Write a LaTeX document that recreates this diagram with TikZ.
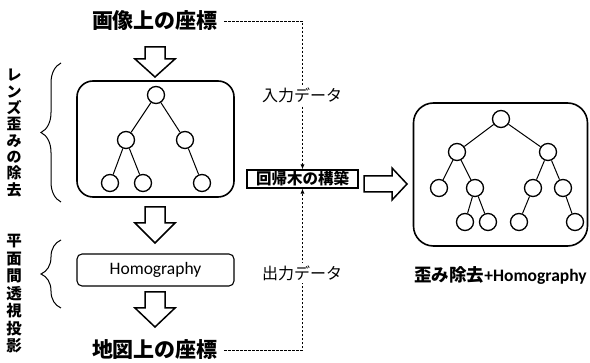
\documentclass[tikz,border=0pt]{standalone}
\usepackage{fontspec}
\setmainfont{Carlito}
\newfontfamily\jp{Noto Sans CJK JP}
\usetikzlibrary{arrows.meta,decorations.pathreplacing}
\begin{document}
\begin{tikzpicture}[x=1pt,y=-1pt,
  tn/.style={circle,draw,line width=1.3pt,minimum size=17pt,inner sep=0pt,fill=white},
  te/.style={line width=1pt},
  bigbox/.style={draw,line width=1.6pt,rounded corners=16pt},
  barrow/.style={draw,line width=1.5pt,fill=white,line join=miter},
  dline/.style={line width=0.8pt,dash pattern=on 2.5pt off 1.5pt},
  dtip/.style={-{Latex[length=5pt,width=4pt]}},
  title/.style={font=\jp\bfseries\fontsize{21}{21}\selectfont,inner sep=6pt},
  vlabA/.style={font=\jp\bfseries\fontsize{15}{16.3}\selectfont,align=center,inner sep=0pt},
  vlabB/.style={font=\jp\bfseries\fontsize{15.5}{17.5}\selectfont,align=center,inner sep=0pt},
  midlab/.style={font=\jp\fontsize{16}{16}\selectfont,fill=white,inner sep=3pt},
  brc/.style={decorate,decoration={brace,amplitude=20pt},line width=1pt},
]
\useasboundingbox (0,0) rectangle (590,363);

% titles
\node[title] (t1) at (155,21) {画像上の座標};
\node[title] (t2) at (155,350) {地図上の座標};

% vertical labels and braces
\node[vlabA] (v1) at (14,133) {レ\\ン\\ズ\\歪\\み\\の\\除\\去};
\node[vlabB] (v2) at (14,294) {平\\面\\間\\透\\視\\投\\影};
\draw[brc] (61,202) -- (61,63);
\draw[brc] (61,308) -- (61,240);

% left tree box
\node[bigbox,minimum width=157pt,minimum height=116pt] (lbox) at (155.5,139) {};
\node[tn] (a0) at (156,95) {};
\node[tn] (a1) at (126,140) {};
\node[tn] (a2) at (185,140) {};
\node[tn] (a3) at (110,183) {};
\node[tn] (a4) at (143,183) {};
\node[tn] (a5) at (202,183) {};
\draw[te] (a0) -- (a1); \draw[te] (a0) -- (a2);
\draw[te] (a1) -- (a3); \draw[te] (a1) -- (a4);
\draw[te] (a2) -- (a5);

% homography box
\node[draw,line width=1.1pt,rounded corners=5pt,minimum width=157pt,minimum height=32pt,font=\fontsize{17.5}{17.5}\selectfont] (hbox) at (155.5,270) {Homography};

% block arrows
\draw[barrow] (145,47) -- (165,47) -- (165,59) -- (175,59) -- (155,77) -- (135,59) -- (145,59) -- cycle;
\draw[barrow] (145,207) -- (165,207) -- (165,223) -- (175,223) -- (155,243) -- (135,223) -- (145,223) -- cycle;
\draw[barrow] (145,292) -- (165,292) -- (165,308) -- (175,308) -- (155,327) -- (135,308) -- (145,308) -- cycle;

% build box
\node[draw,line width=1.1pt,minimum width=111pt,minimum height=18pt,inner sep=0pt,font=\jp\bfseries\fontsize{15.5}{15.5}\selectfont] (build) at (302.5,179) {回帰木の構築};

% dashed connectors
\draw[dline,dtip] (t1.east) -| (build.north);
\draw[dline,dtip] (t2.east) -| (build.south);
\node[midlab] (in) at (302,95) {入力データ};
\node[midlab] (out) at (302,273) {出力データ};

% right block arrow
\draw[barrow] (364,176) -- (392,176) -- (392,168) -- (407,184) -- (392,200) -- (392,192) -- (364,192) -- cycle;

% right tree box
\node[bigbox,rounded corners=20pt,minimum width=174pt,minimum height=143pt] (rbox) at (500.5,174.5) {};
\node[tn] (b0) at (501,119) {};
\node[tn] (b1) at (457,152) {};
\node[tn] (b2) at (548,152) {};
\node[tn] (b3) at (439,188) {};
\node[tn] (b4) at (475,188) {};
\node[tn] (b5) at (533,188) {};
\node[tn] (b6) at (563,188) {};
\node[tn] (b7) at (465,222) {};
\node[tn] (b8) at (488,222) {};
\node[tn] (b9) at (519,222) {};
\node[tn] (b10) at (575,222) {};
\draw[te] (b0) -- (b1); \draw[te] (b0) -- (b2);
\draw[te] (b1) -- (b3); \draw[te] (b1) -- (b4);
\draw[te] (b2) -- (b5); \draw[te] (b2) -- (b6);
\draw[te] (b4) -- (b7); \draw[te] (b4) -- (b8);
\draw[te] (b5) -- (b9); \draw[te] (b6) -- (b10);

\node[font=\bfseries\fontsize{17.5}{17.5}\selectfont,inner sep=0pt] (rlab) at (500.5,275) {{\jp 歪み除去}+Homography};
\end{tikzpicture}
\end{document}
